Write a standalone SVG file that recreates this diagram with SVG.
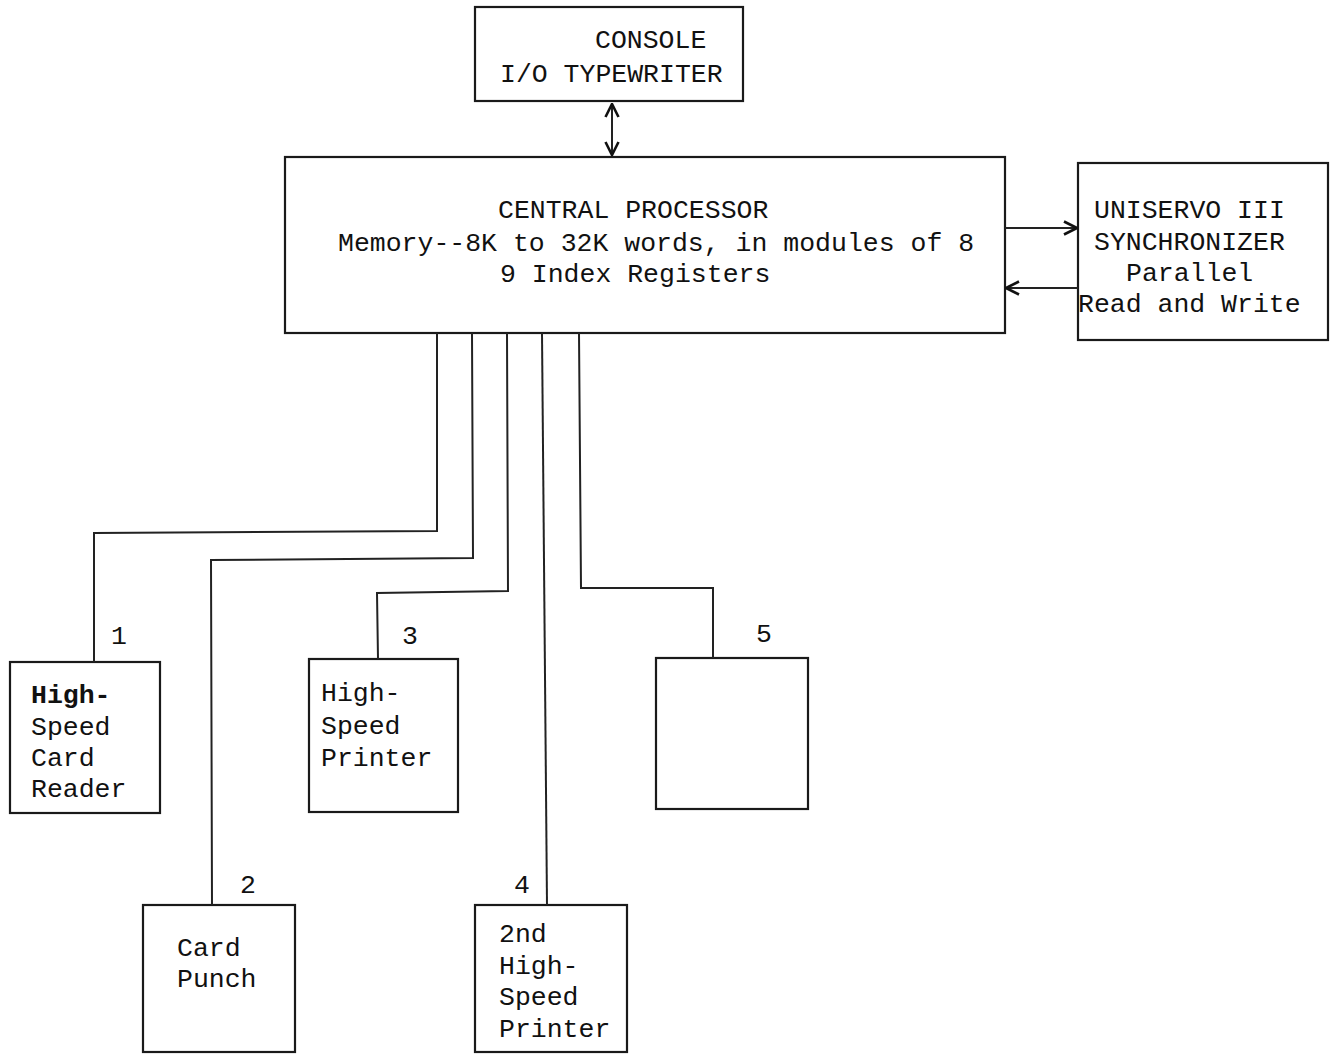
<svg xmlns="http://www.w3.org/2000/svg" width="1337" height="1055" viewBox="0 0 1337 1055">
<style>
.box{fill:none;stroke:#1a1a1a;stroke-width:2.2}
.ln{fill:none;stroke:#222;stroke-width:2}
.t{font-family:"Liberation Mono","DejaVu Sans Mono",monospace;font-size:26.5px;fill:#111}
.b{font-weight:bold}
</style>
<defs>
<marker id="ah" viewBox="0 0 16 16" refX="15" refY="8" markerWidth="16" markerHeight="16" markerUnits="userSpaceOnUse" orient="auto-start-reverse">
<path d="M2,1.5 L15,8 L2,14.5" fill="none" stroke="#111" stroke-width="2.6"/>
</marker>
</defs>
<rect width="1337" height="1055" fill="#fff"/>
<g id="console">
<rect class="box" x="475" y="7" width="268" height="94"/>
<text class="t" x="595" y="48">CONSOLE</text>
<text class="t" x="500" y="82">I/O TYPEWRITER</text>
</g>
<g id="cpu">
<rect class="box" x="285" y="157" width="720" height="176"/>
<text class="t" x="498" y="218">CENTRAL PROCESSOR</text>
<text class="t" x="338" y="251">Memory--8K to 32K words, in modules of 8</text>
<text class="t" x="500" y="282">9 Index Registers</text>
</g>
<g id="uniservo">
<rect class="box" x="1078" y="163" width="250" height="177"/>
<text class="t" x="1094" y="218">UNISERVO III</text>
<text class="t" x="1094" y="250">SYNCHRONIZER</text>
<text class="t" x="1126" y="281">Parallel</text>
<text class="t" x="1078" y="312">Read and Write</text>
</g>
<g id="dev1">
<rect class="box" x="10" y="662" width="150" height="151"/>
<text class="t b" x="31" y="703">High-</text>
<text class="t" x="31" y="735">Speed</text>
<text class="t" x="31" y="766">Card</text>
<text class="t" x="31" y="797">Reader</text>
<text class="t" x="111" y="644">1</text>
</g>
<g id="dev2">
<rect class="box" x="143" y="905" width="152" height="147"/>
<text class="t" x="177" y="956">Card</text>
<text class="t" x="177" y="987">Punch</text>
<text class="t" x="240" y="893">2</text>
</g>
<g id="dev3">
<rect class="box" x="309" y="659" width="149" height="153"/>
<text class="t" x="321" y="701">High-</text>
<text class="t" x="321" y="734">Speed</text>
<text class="t" x="321" y="766">Printer</text>
<text class="t" x="402" y="644">3</text>
</g>
<g id="dev4">
<rect class="box" x="475" y="905" width="152" height="147"/>
<text class="t" x="499" y="942">2nd</text>
<text class="t" x="499" y="974">High-</text>
<text class="t" x="499" y="1005">Speed</text>
<text class="t" x="499" y="1037">Printer</text>
<text class="t" x="514" y="893">4</text>
</g>
<g id="dev5">
<rect class="box" x="656" y="658" width="152" height="151"/>
<text class="t" x="756" y="642">5</text>
</g>
<g id="connectors">
<line class="ln" x1="612" y1="104" x2="612" y2="155" marker-start="url(#ah)" marker-end="url(#ah)"/>
<line class="ln" x1="1005" y1="228" x2="1077" y2="228" marker-end="url(#ah)"/>
<line class="ln" x1="1078" y1="288" x2="1006" y2="288" marker-end="url(#ah)"/>
<polyline class="ln" points="437,333 437,531 94,533 94,662"/>
<polyline class="ln" points="472,333 473,558 211,560 212,905"/>
<polyline class="ln" points="507,333 508,591 377,593 378,659"/>
<polyline class="ln" points="542,333 547,905"/>
<polyline class="ln" points="579,333 581,588 713,588 713,658"/>
</g>
</svg>
